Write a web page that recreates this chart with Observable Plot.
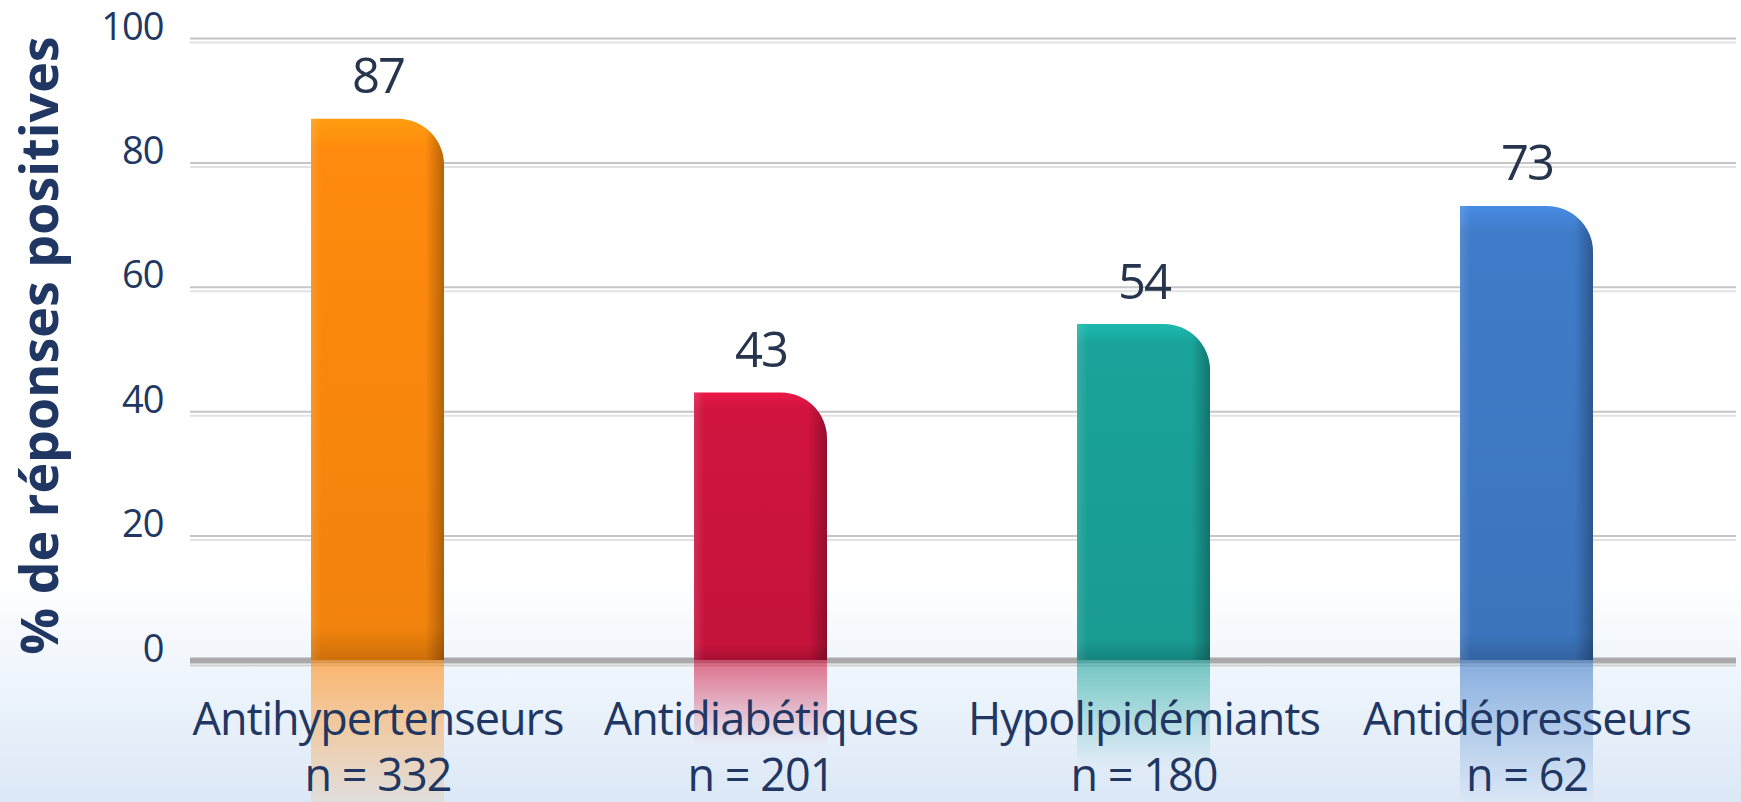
<!DOCTYPE html>
<html>
<head>
<meta charset="utf-8">
<script src="https://cdn.jsdelivr.net/npm/d3@7"></script>
<script src="https://cdn.jsdelivr.net/npm/@observablehq/plot@0.6"></script>
<style>
  html, body { margin: 0; padding: 0; background: #fff; }
  .ytick text { letter-spacing: -1px; }
  .xlab text { letter-spacing: -1px; }
  .vlab text { letter-spacing: -2px; }
</style>
</head>
<body>
<div id="chart"></div>
<script>
const categories = ["Antihypertenseurs", "Antidiabétiques", "Hypolipidémiants", "Antidépresseurs"];
const values = [87, 43, 54, 73];
const sampleSizes = [332, 201, 180, 62];
const yTicks = [0, 20, 40, 60, 80, 100];
const barColors = ["#FF8A0D", "#D0143F", "#1AA39A", "#3F7BC8"];
const yTitle = "% de réponses positives";

const data = categories.map((c, i) => ({category: c, value: values[i], n: sampleSizes[i], idx: i}));
const navy = "#1f3762";

const plot = Plot.plot({
  width: 1741,
  height: 802,
  marginLeft: 190,
  marginRight: 5,
  marginTop: 38,
  marginBottom: 142,
  style: {
    fontFamily: "'Open Sans', sans-serif",
    background: "linear-gradient(to bottom, #ffffff 0%, #ffffff 72%, #eaf2fb 88%, #dce8f6 100%)",
    overflow: "visible"
  },
  x: {domain: categories, paddingInner: 0.654, paddingOuter: 0.341, align: 0.456},
  y: {domain: [0, 100]},
  color: {type: "identity"},
  marks: [
    Plot.ruleY(yTicks.filter(t => t > 0), {stroke: "#c6c6c6", strokeWidth: 2}),
    Plot.ruleY(yTicks.filter(t => t > 0), {stroke: "#e2e2e2", strokeWidth: 2, dy: 4}),
    Plot.ruleY([0], {stroke: "#a9a9a9", strokeWidth: 6}),
    Plot.ruleY([0], {stroke: "#d0d0d0", strokeWidth: 2, dy: 5}),
    // reflection (mirror of each bar below the baseline)
    Plot.barY(data, {x: "category", y1: 0, y2: d => -d.value, fill: d => `url(#refl${d.idx})`}),
    // bars
    Plot.barY(data, {x: "category", y: "value", fill: d => `url(#bar${d.idx})`, rx2y1: 46}),
    Plot.barY(data, {x: "category", y: "value", fill: "url(#shade)", rx2y1: 46}),
    Plot.text(data, {x: "category", y: "value", text: d => String(d.value), dy: -26, lineAnchor: "bottom",
      fontSize: 49, fill: "#26354d", className: "vlab"}),
    Plot.axisY({ticks: yTicks, tickSize: 0, tickPadding: 27, fontSize: 38, dy: -11, label: null,
      fill: navy, className: "ytick"}),
    Plot.axisX({tickSize: 0, tickPadding: 35, fontSize: 45, lineHeight: 1.24, label: null, fill: navy,
      tickFormat: (c) => `${c}\nn = ${sampleSizes[categories.indexOf(c)]}`, className: "xlab"}),
    Plot.text([yTitle], {frameAnchor: "left", textAnchor: "middle", lineAnchor: "middle",
      dx: -149, dy: -4, rotate: -90, fontSize: 52, fontWeight: "bold", fill: navy})
  ]
});

const svg = d3.select(plot);
const defs = svg.insert("defs", ":first-child");
function shade(hex, k) {
  const c = d3.color(hex);
  return k > 0 ? c.brighter(k).formatHex() : c.darker(-k).formatHex();
}
barColors.forEach((col, i) => {
  const g = defs.append("linearGradient").attr("id", `bar${i}`)
    .attr("x1", 0).attr("y1", 0).attr("x2", 0).attr("y2", 1);
  g.append("stop").attr("offset", 0).attr("stop-color", shade(col, 0.35));
  g.append("stop").attr("offset", 0.06).attr("stop-color", col);
  g.append("stop").attr("offset", 0.94).attr("stop-color", shade(col, -0.15));
  g.append("stop").attr("offset", 1).attr("stop-color", shade(col, -0.6));
  const r = defs.append("linearGradient").attr("id", `refl${i}`)
    .attr("x1", 0).attr("y1", 0).attr("x2", 0).attr("y2", 1);
  r.append("stop").attr("offset", 0).attr("stop-color", col).attr("stop-opacity", 0.6);
  r.append("stop").attr("offset", 0.32).attr("stop-color", col).attr("stop-opacity", 0);
});
const s = defs.append("linearGradient").attr("id", "shade")
  .attr("x1", 0).attr("y1", 0).attr("x2", 1).attr("y2", 0);
s.append("stop").attr("offset", 0).attr("stop-color", "#fff").attr("stop-opacity", 0.12);
s.append("stop").attr("offset", 0.08).attr("stop-color", "#fff").attr("stop-opacity", 0);
s.append("stop").attr("offset", 0.86).attr("stop-color", "#000").attr("stop-opacity", 0);
s.append("stop").attr("offset", 1).attr("stop-color", "#000").attr("stop-opacity", 0.28);

document.getElementById("chart").appendChild(plot);
</script>
</body>
</html>
